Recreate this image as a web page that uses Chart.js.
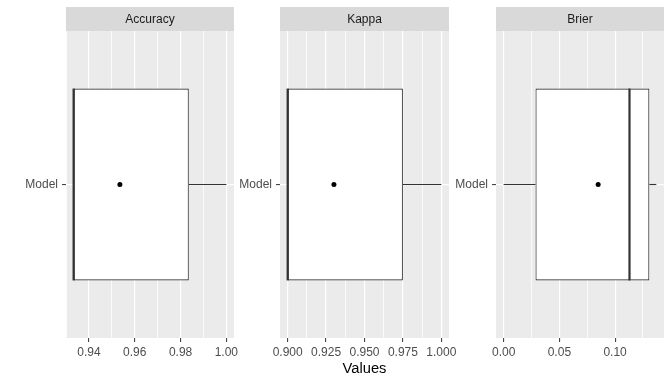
<!DOCTYPE html>
<html lang="en">

<head>
    <meta charset="UTF-8">
    <title>Model metrics</title>
    <script src="https://cdn.jsdelivr.net/npm/chart.js@4.4.1/dist/chart.umd.min.js"></script>
    <style>
        body { margin: 0; background: #ffffff; }
        #wrap { position: relative; width: 672px; height: 384px; overflow: hidden; }
        #wrap canvas { position: absolute; top: 0; }
    </style>
</head>

<body>
    <div id="wrap">
        <canvas id="c1" width="244" height="384" style="left:0px"></canvas>
        <canvas id="c2" width="219" height="384" style="left:240px"></canvas>
        <canvas id="c3" width="216" height="384" style="left:456px"></canvas>
    </div>
</body>
<script>
    // data
    const panelTitles = ['Accuracy', 'Kappa', 'Brier'];
    const categories = ['Model'];
    const whiskerLow = [0.9333, 0.9000, 0.0000];
    const boxQ1 = [0.9333, 0.9000, 0.0286];
    const boxMedian = [0.9333, 0.9000, 0.1129];
    const boxQ3 = [0.9836, 0.9750, 0.1307];
    const whiskerHigh = [1.0000, 1.0000, 0.1370];
    const meanValues = [0.9535, 0.9301, 0.0848];
    const accuracyTicks = ['0.94', '0.96', '0.98', '1.00'];
    const kappaTicks = ['0.900', '0.925', '0.950', '0.975', '1.000'];
    const brierTicks = ['0.00', '0.05', '0.10'];
    const xTitle = 'Values';

    const FONT = "'Liberation Sans', Arial, sans-serif";
    const boxWidth = 0.75;   // like geom_boxplot
    const yMin = 0.4, yMax = 1.6;

    // strip + grey panel background
    const panelBg = {
        id: 'panelBg',
        beforeDraw(chart, args, opts) {
            const a = chart.chartArea;
            const ctx = chart.ctx;
            ctx.save();
            ctx.fillStyle = '#EBEBEB';
            ctx.fillRect(a.left, a.top, a.right - a.left, a.bottom - a.top);
            ctx.fillStyle = '#D9D9D9';
            ctx.fillRect(a.left, a.top - 24, a.right - a.left, 24);
            ctx.fillStyle = '#1A1A1A';
            ctx.font = '12px ' + FONT;
            ctx.textAlign = 'center';
            ctx.textBaseline = 'middle';
            ctx.fillText(opts.text, (a.left + a.right) / 2, a.top - 11.5);
            ctx.restore();
        }
    };

    function makePanel(i, canvasId, yWidth, padRight, tickLabels, showTitle) {
        const majors = tickLabels.map(parseFloat);
        const lo = Math.min(whiskerLow[i], meanValues[i]);
        const hi = Math.max(whiskerHigh[i], meanValues[i]);
        const xMin = lo - (hi - lo) * 0.05;
        const xMax = hi + (hi - lo) * 0.05;

        // minor breaks halfway between the major ones
        const step = majors[1] - majors[0];
        let allTicks = [];
        for (let k = -1; k < majors.length; k++) {
            const m = majors[0] + step * k;
            if (k >= 0) allTicks.push({ value: majors[k], label: tickLabels[k] });
            const mid = m + step / 2;
            if (mid >= xMin && mid <= xMax) allTicks.push({ value: mid, label: '', minor: true });
        }
        allTicks = allTicks.filter(t => t.value >= xMin - 1e-9 && t.value <= xMax + 1e-9)
            .sort((a, b) => a.value - b.value);

        const yc = 1; // position of the single category
        const ctx = document.getElementById(canvasId).getContext('2d');
        return new Chart(ctx, {
            type: 'scatter',
            data: {
                datasets: [
                    {
                        type: 'bar',
                        indexAxis: 'y',
                        data: [{ x: [boxQ1[i], boxQ3[i]], y: yc }],
                        backgroundColor: '#FFFFFF',
                        borderColor: '#333333',
                        borderWidth: 1.1,
                        borderSkipped: false,
                        categoryPercentage: 1,
                        barPercentage: boxWidth / (yMax - yMin),
                        order: 3
                    },
                    {
                        type: 'line',
                        data: [{ x: whiskerLow[i], y: yc }, { x: boxQ1[i], y: yc }],
                        borderColor: '#333333', borderWidth: 1.1, pointRadius: 0, fill: false,
                        order: 4
                    },
                    {
                        type: 'line',
                        data: [{ x: boxQ3[i], y: yc }, { x: whiskerHigh[i], y: yc }],
                        borderColor: '#333333', borderWidth: 1.1, pointRadius: 0, fill: false,
                        order: 4
                    },
                    {
                        type: 'line',
                        data: [{ x: boxMedian[i], y: yc - boxWidth / 2 }, { x: boxMedian[i], y: yc + boxWidth / 2 }],
                        borderColor: '#333333', borderWidth: 2.2, pointRadius: 0, fill: false,
                        order: 2
                    },
                    {
                        type: 'scatter',
                        data: [{ x: meanValues[i], y: yc }],
                        pointRadius: 2.5, pointBackgroundColor: '#000000', pointBorderWidth: 0,
                        order: 1
                    }
                ]
            },
            options: {
                responsive: false,
                animation: false,
                layout: { padding: { top: 31, right: padRight, left: 0, bottom: 0 } },
                plugins: {
                    legend: { display: false },
                    tooltip: { enabled: false },
                    panelBg: { text: panelTitles[i] }
                },
                scales: {
                    x: {
                        type: 'linear',
                        min: xMin,
                        max: xMax,
                        bounds: 'data',
                        offset: false,
                        border: { display: false },
                        grid: {
                            offset: false,
                            color: '#FFFFFF',
                            lineWidth: c => (c.tick && c.tick.minor) ? 0.8 : 1.2,
                            tickLength: 4,
                            tickWidth: 1,
                            tickColor: c => (c.tick && c.tick.minor) ? 'rgba(0,0,0,0)' : '#333333'
                        },
                        ticks: {
                            autoSkip: false,
                            maxRotation: 0,
                            padding: 3,
                            color: '#4D4D4D',
                            font: { family: FONT, size: 12 },
                            callback: (v, idx, ticks) => ticks[idx].label
                        },
                        title: {
                            display: showTitle,
                            text: xTitle,
                            color: '#000000',
                            font: { family: FONT, size: 14.7 },
                            padding: { top: 0, bottom: 6 }
                        },
                        afterBuildTicks: s => { s.ticks = allTicks.map(t => Object.assign({}, t)); },
                        afterFit: s => { s.height = 46; s.paddingLeft = 0; s.paddingRight = 0; }
                    },
                    y: {
                        type: 'linear',
                        min: yMin,
                        max: yMax,
                        bounds: 'data',
                        offset: false,
                        border: { display: false },
                        grid: {
                            offset: false,
                            color: '#FFFFFF',
                            lineWidth: 1.2,
                            tickLength: 4,
                            tickWidth: 1,
                            tickColor: '#333333'
                        },
                        ticks: {
                            padding: 4,
                            color: '#4D4D4D',
                            font: { family: FONT, size: 12 },
                            callback: v => categories[Math.round(v) - 1]
                        },
                        afterBuildTicks: s => { s.ticks = categories.map((c, k) => ({ value: k + 1 })); },
                        afterFit: s => { s.width = yWidth; s.paddingTop = 0; s.paddingBottom = 0; }
                    }
                }
            },
            plugins: [panelBg]
        });
    }

    makePanel(0, 'c1', 66, 10, accuracyTicks, false);
    makePanel(1, 'c2', 40, 10, kappaTicks, true);
    makePanel(2, 'c3', 40, 8, brierTicks, false);
</script>

</html>
